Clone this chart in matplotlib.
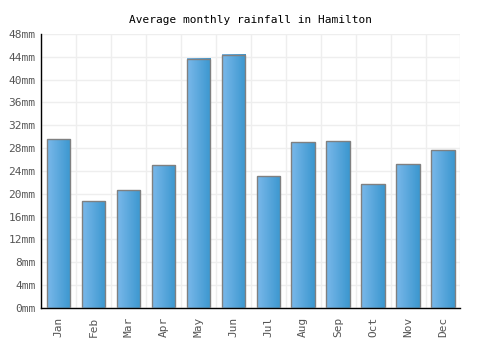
import numpy as np
import matplotlib.pyplot as plt
from matplotlib.colors import LinearSegmentedColormap

months = ['Jan', 'Feb', 'Mar', 'Apr', 'May', 'Jun', 'Jul', 'Aug', 'Sep', 'Oct', 'Nov', 'Dec']
rainfall = [29.6, 18.7, 20.6, 25.0, 43.7, 44.4, 23.1, 29.0, 29.2, 21.7, 25.2, 27.6]
yticks = list(range(0, 49, 4))

plt.rcParams['font.family'] = 'DejaVu Sans Mono'

fig = plt.figure(figsize=(5, 3.5), dpi=100)
ax = fig.add_axes([0.082, 0.12, 0.839, 0.783])

x = np.arange(len(months))
bars = ax.bar(x, rainfall, width=0.67, color='none', edgecolor='#808080', linewidth=1, zorder=3)

# horizontal gradient inside each bar
cmap = LinearSegmentedColormap.from_list('bar', ['#7ab8ea', '#3b97cf'])
grad = np.linspace(0, 1, 64).reshape(1, -1)
for b in bars:
    ax.imshow(grad, cmap=cmap, aspect='auto', zorder=2,
              extent=(b.get_x(), b.get_x() + b.get_width(), 0, b.get_height()))

ax.set_xlim(-0.5, len(months) - 0.5)
ax.set_ylim(0, 48)
ax.set_xticks(x)
ax.set_xticklabels(months, rotation=90)
ax.set_yticks(yticks)
ax.set_yticklabels([f'{v}mm' for v in yticks])
ax.set_xticks(np.arange(len(months) + 1) - 0.5, minor=True)

ax.grid(True, which='minor', axis='x', color='#eeeeee', linewidth=1, zorder=0)
ax.grid(True, which='major', axis='y', color='#eeeeee', linewidth=1, zorder=0)
ax.tick_params(axis='both', which='both', length=0, labelsize=8, colors='#555555', pad=4)
ax.tick_params(axis='x', which='major', pad=6)

for s in ['top', 'right']:
    ax.spines[s].set_visible(False)
for s in ['left', 'bottom']:
    ax.spines[s].set_color('black')
    ax.spines[s].set_linewidth(1)

ax.set_title('Average monthly rainfall in Hamilton', fontsize=8, color='black', pad=8)

fig.savefig('out.png', dpi=100)
